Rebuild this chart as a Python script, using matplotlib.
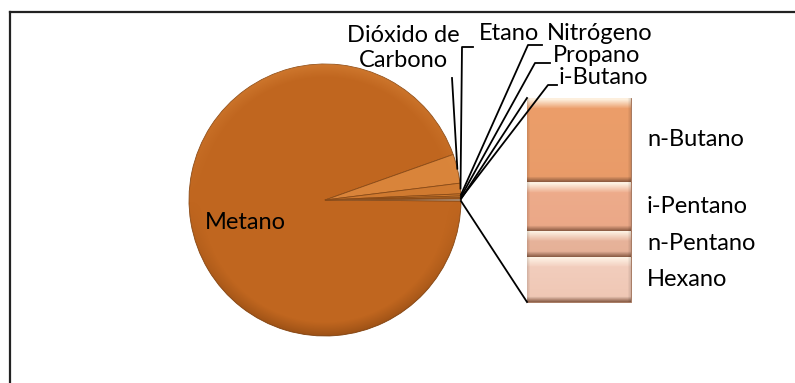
import matplotlib.pyplot as plt
import numpy as np
from matplotlib.lines import Line2D
from matplotlib.patches import Circle
from matplotlib.colors import to_rgb

# Composición del gas (% molar)
pie_labels = ['Metano', 'Dióxido de\nCarbono', 'Etano', 'Nitrógeno', 'Propano', 'i-Butano']
pie_values = [94.30, 3.45, 1.25, 0.25, 0.20, 0.15]

bar_labels = ['n-Butano', 'i-Pentano', 'n-Pentano', 'Hexano']
bar_values = [0.100, 0.058, 0.031, 0.054]

slice_colors = ['#C0661F', '#D9843A', '#D07A30', '#CF7A2E', '#D2802F', '#C9742A', '#B9A89A']
bar_colors = ['#EC9E6A', '#EEAC8C', '#E8B59D', '#F3CFBF']

W, H = 795, 383
R_PX = 136.0
CX, CY = 325.0, 200.0


def px(x, y):
    """pixel position -> data units (pie radius = 1)"""
    return (x - CX) / R_PX, (CY - y) / R_PX


def mix(c1, c2, t):
    c1, c2 = np.array(to_rgb(c1)), np.array(to_rgb(c2))
    return c1 * (1 - t) + c2 * t


def reset_limits():
    ax.set_xlim(px(0, 0)[0], px(W, 0)[0])
    ax.set_ylim(px(0, H)[1], px(0, 0)[1])
    ax.set_aspect('auto')


fig = plt.figure(figsize=(W / 100, H / 100), dpi=100)
ax = fig.add_axes([0, 0, 1, 1])
ax.axis('off')

plt.rcParams['font.family'] = ['Lato', 'DejaVu Sans']
FS = 17

# pie with the "other" slice centred on the right
other = sum(bar_values)
values = pie_values + [other]
other_deg = other / sum(values) * 360
wedges, _ = ax.pie(values, colors=slice_colors, startangle=-other_deg / 2,
                   counterclock=False, radius=1, center=(0, 0), frame=False,
                   wedgeprops=dict(edgecolor='#8A4A16', linewidth=0.6))
reset_limits()

# rim shading on the pie (light on top, darker underneath)
n = 400
g = np.linspace(-1, 1, n)
xx, yy = np.meshgrid(g, g[::-1])
rr = np.hypot(xx, yy)
rim = np.clip((rr - 0.90) / 0.10, 0, 1)
shade = np.zeros((n, n, 4))
top = np.clip(yy, 0, 1)
bot = np.clip(-yy, 0, 1)
shade[..., :3] = np.where((yy > 0)[..., None], to_rgb('#F0A050'), to_rgb('#5A2A05'))
shade[..., 3] = rim * (0.30 * top + 0.35 * bot)
circ = Circle((0, 0), 1, transform=ax.transData)
im = ax.imshow(shade, extent=(-1, 1, -1, 1), interpolation='bilinear', zorder=3)
im.set_clip_path(circ)
reset_limits()

# stacked bar for the grouped components
bar_x0, bar_w = px(527, 0)[0], (631 - 527) / R_PX
bar_h = 1.5
heights = np.array(bar_values[::-1]) / other * bar_h
bottoms = -bar_h / 2 + np.concatenate([[0], np.cumsum(heights)[:-1]])
bars = ax.bar(bar_x0, heights, bar_w, bottom=bottoms, align='edge',
              color=bar_colors[::-1], edgecolor='#9A6A50', linewidth=0.6)
for rect, c in zip(bars, bar_colors[::-1]):
    x0, y0 = rect.get_x(), rect.get_y()
    w, h = rect.get_width(), rect.get_height()
    nr, nc = max(int(h * R_PX), 2), int(w * R_PX)
    img = np.zeros((nr, nc, 3))
    for r in range(nr):
        if r < 10:
            col = mix('#FFF8EA', c, r / 10) if r > 1 else mix('#FFF8EA', c, 0.1)
        elif r >= nr - 5:
            col = mix(c, '#7E5038', (r - (nr - 5)) / 5 * 0.8 + 0.2)
        else:
            col = mix(c, '#D08860', 0.12 * (r / nr))
        img[r, :] = col
    # darker side edges
    for k in range(3):
        img[:, k] = img[:, k] * (0.88 + 0.04 * k)
        img[:, nc - 1 - k] = img[:, nc - 1 - k] * (0.88 + 0.04 * k)
    bim = ax.imshow(img, extent=(x0, x0 + w, y0, y0 + h), interpolation='bilinear',
                    zorder=3)
    bim.set_clip_path(rect)
reset_limits()

for lbl, b, h in zip(bar_labels[::-1], bottoms, heights):
    ax.text(px(647, 0)[0], b + h / 2, lbl,
            fontsize=FS, va='center', ha='left', color='black', zorder=5)

# connector lines from the "other" slice to the bar
ow = wedges[-1]
for ang, yb in [(ow.theta2, bar_h / 2), (ow.theta1, -bar_h / 2)]:
    a = np.radians(ang)
    ax.add_line(Line2D([np.cos(a), bar_x0], [np.sin(a), yb], color='black', lw=1.3,
                       zorder=4))

# labels with leader lines
ax.text(*px(245, 223), pie_labels[0], fontsize=FS, ha='center', va='center', zorder=5)

label_pos = {
    1: ((403, 48), None, (452, 78)),
    2: ((509, 33), (473, 47), (462, 47)),
    3: ((600, 33), (542, 45), (528, 45)),
    4: ((597, 55), (550, 63), (535, 63)),
    5: ((603, 77), (557, 85), (548, 85)),
}
for i, (tpos, e1, e2) in label_pos.items():
    ax.text(*px(*tpos), pie_labels[i], fontsize=FS, ha='center', va='center',
            linespacing=1.2, zorder=5)
    w = wedges[i]
    mid = np.radians((w.theta1 + w.theta2) / 2)
    tip = (np.cos(mid), np.sin(mid))
    pts = [px(*e1)] if e1 else []
    pts += [px(*e2), tip]
    xs, ys = zip(*pts)
    ax.add_line(Line2D(xs, ys, color='black', lw=1.3, zorder=4))

# chart frame
fig.add_artist(Line2D([10 / W, 1], [1 - 12 / H, 1 - 12 / H], color='#222222', lw=1.6,
                      transform=fig.transFigure))
fig.add_artist(Line2D([10 / W, 10 / W], [0, 1 - 12 / H], color='#222222', lw=1.6,
                      transform=fig.transFigure))

fig.savefig('out.png', dpi=100, facecolor='white')
